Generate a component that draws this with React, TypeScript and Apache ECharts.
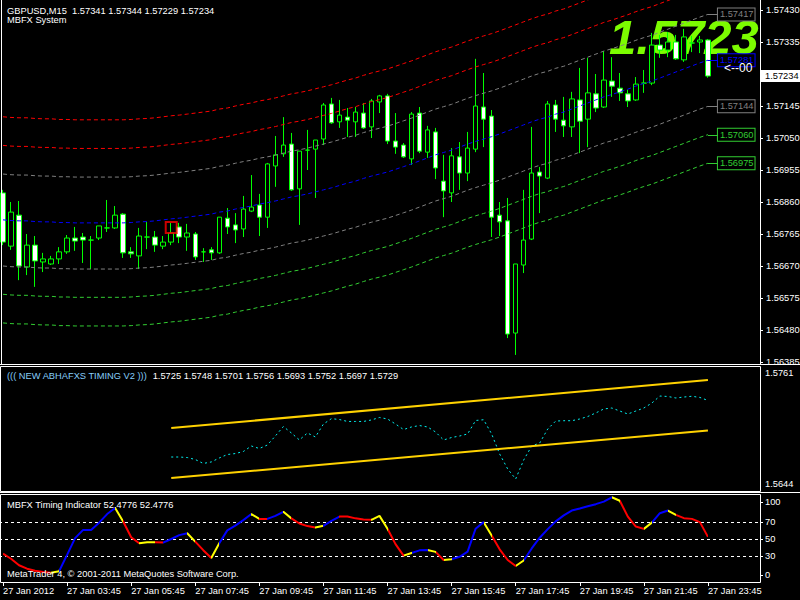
import React, { useEffect, useRef } from "react";
import * as echarts from "echarts";

// ---------- texts ----------
const symbolLabel = "GBPUSD,M15";
const systemLabel = "MBFX System";
const abhaTitle = "((( NEW ABHAFXS TIMING V2 )))";
const abhaValues = [1.5725, 1.5748, 1.5701, 1.5756, 1.5693, 1.5752, 1.5697, 1.5729];
const timingTitle = "MBFX Timing Indicator";
const footerText = "MetaTrader 4, \u00a9 2001-2011 MetaQuotes Software Corp.";
const arrowText = "<--00";

// ---------- main panel: candles (27 Jan 2012, M15, from 01:45) ----------
const opens = [
  1.56887, 1.56729, 1.56821, 1.56667, 1.56732, 1.56682, 1.56676, 1.56691, 1.56712, 1.56753,
  1.56756, 1.56747, 1.56753, 1.56783, 1.56783, 1.56824, 1.56712, 1.567, 1.56756, 1.56756,
  1.56729, 1.56741, 1.56786, 1.56756, 1.56765, 1.56712, 1.56718, 1.56709, 1.56812, 1.56792,
  1.5678, 1.56833, 1.56851, 1.56815, 1.56967, 1.57003, 1.57032, 1.56899, 1.57014, 1.57017,
  1.57047, 1.57151, 1.57098, 1.57112, 1.57098, 1.57124, 1.57083, 1.57157, 1.57175, 1.57041,
  1.57029, 1.56988, 1.57124, 1.57008, 1.57068, 1.56922, 1.56887, 1.56994, 1.56946, 1.57017,
  1.57142, 1.57115, 1.56821, 1.56804, 1.56471, 1.56673, 1.5675, 1.56949, 1.56931, 1.57148,
  1.57103, 1.57083, 1.57163, 1.57106, 1.57181, 1.57142, 1.57219, 1.57198, 1.57181, 1.57163,
  1.57213, 1.57213, 1.57326, 1.57311, 1.57335, 1.57282, 1.57332, 1.57335, 1.57341,
];
const highs = [
  1.56896, 1.5686, 1.56863, 1.56765, 1.56759, 1.56709, 1.567, 1.56726, 1.56762, 1.56786,
  1.56768, 1.56759, 1.56789, 1.56866, 1.56848, 1.56827, 1.56726, 1.56783, 1.56801, 1.56774,
  1.56759, 1.56798, 1.56798, 1.56795, 1.56771, 1.56723, 1.56726, 1.56815, 1.56842, 1.56827,
  1.56878, 1.5694, 1.56884, 1.56976, 1.57056, 1.57112, 1.57065, 1.57011, 1.57074, 1.57044,
  1.57154, 1.57169, 1.57163, 1.57139, 1.57142, 1.57154, 1.57166, 1.57178, 1.57181, 1.57124,
  1.57035, 1.57127, 1.57142, 1.57086, 1.5708, 1.57, 1.5702, 1.57038, 1.57068, 1.57285,
  1.57243, 1.57133, 1.5686, 1.56872, 1.56676, 1.56896, 1.57083, 1.56964, 1.5716, 1.57163,
  1.57172, 1.57187, 1.57258, 1.57288, 1.5724, 1.57308, 1.5729, 1.57243, 1.57193, 1.57231,
  1.57252, 1.57362, 1.57356, 1.57365, 1.57356, 1.57374, 1.57353, 1.57353, 1.57344,
];
const lows = [
  1.56732, 1.56718, 1.56628, 1.56643, 1.56608, 1.56652, 1.56673, 1.56676, 1.56706, 1.56715,
  1.56679, 1.56661, 1.56747, 1.56771, 1.5678, 1.56694, 1.56694, 1.56661, 1.5672, 1.56712,
  1.5672, 1.56732, 1.56738, 1.56715, 1.56688, 1.56682, 1.56688, 1.56706, 1.56765, 1.56738,
  1.56756, 1.5683, 1.56759, 1.56783, 1.56905, 1.56994, 1.56893, 1.56792, 1.56955, 1.56872,
  1.57029, 1.57092, 1.5708, 1.57053, 1.57053, 1.57077, 1.5705, 1.57124, 1.57032, 1.57003,
  1.56991, 1.5697, 1.57005, 1.56991, 1.56928, 1.56815, 1.5686, 1.56896, 1.56922, 1.57008,
  1.57023, 1.56756, 1.56759, 1.56456, 1.56406, 1.56649, 1.56747, 1.56827, 1.56928, 1.57068,
  1.57053, 1.57053, 1.57005, 1.57023, 1.57127, 1.57139, 1.57172, 1.5716, 1.57142, 1.5716,
  1.57184, 1.57207, 1.57288, 1.5729, 1.57282, 1.57276, 1.57305, 1.57302, 1.57229,
];
const closes = [
  1.56741, 1.5683, 1.5667, 1.56732, 1.56685, 1.56691, 1.56691, 1.56712, 1.56753, 1.56744,
  1.56747, 1.56747, 1.56789, 1.56783, 1.56821, 1.56709, 1.56706, 1.56759, 1.56756, 1.56732,
  1.56741, 1.56768, 1.56756, 1.56768, 1.56697, 1.56712, 1.56709, 1.56815, 1.56786, 1.56777,
  1.56839, 1.56845, 1.56815, 1.56973, 1.57, 1.57029, 1.56896, 1.57011, 1.57014, 1.57044,
  1.57148, 1.57095, 1.57118, 1.57103, 1.57127, 1.5708, 1.5716, 1.57175, 1.57041, 1.57023,
  1.56994, 1.57121, 1.57011, 1.57074, 1.56961, 1.56893, 1.56997, 1.56946, 1.5702, 1.57145,
  1.57106, 1.56815, 1.56801, 1.56468, 1.56676, 1.56747, 1.56946, 1.56937, 1.57151, 1.57106,
  1.57086, 1.57166, 1.571, 1.57184, 1.57139, 1.57222, 1.57204, 1.57184, 1.5716, 1.5721,
  1.57213, 1.57326, 1.57311, 1.57335, 1.57285, 1.5735, 1.57332, 1.57341, 1.57234,
];

// MBFX System channel: centre line per bar and band distances
const bandCenter = [
  1.56807, 1.56805, 1.56804, 1.56804, 1.56802, 1.56801, 1.56801, 1.56799, 1.56799, 1.56798,
  1.56798, 1.56798, 1.56798, 1.56798, 1.56798, 1.56798, 1.56799, 1.56801, 1.56802, 1.56804,
  1.56807, 1.5681, 1.56812, 1.56815, 1.56818, 1.56821, 1.56824, 1.5683, 1.56833, 1.56839,
  1.56844, 1.56848, 1.56854, 1.56858, 1.56863, 1.56869, 1.56875, 1.56879, 1.56884, 1.5689,
  1.56896, 1.56902, 1.56909, 1.56916, 1.56922, 1.5693, 1.56937, 1.56943, 1.56949, 1.56957,
  1.56965, 1.56973, 1.56982, 1.56991, 1.57, 1.57007, 1.57014, 1.57023, 1.57032, 1.5704,
  1.57047, 1.57054, 1.57062, 1.57071, 1.5708, 1.57089, 1.57098, 1.57106, 1.57112, 1.57121,
  1.57127, 1.57136, 1.57145, 1.57154, 1.57163, 1.57172, 1.57179, 1.57187, 1.57195, 1.57204,
  1.57212, 1.57219, 1.57228, 1.57237, 1.57246, 1.57255, 1.57264, 1.57273, 1.57281,
];
const bandUpperOffsets = [0.00136, 0.00221, 0.00306];
const bandLowerOffsets = [0.00137, 0.00221, 0.00306];
// 1.57240 is hidden under the bid box in the reference, so it is not listed
const priceTicks = [
  1.5743, 1.57335, 1.57145, 1.5705, 1.56955, 1.5686, 1.56765, 1.5667, 1.56575, 1.5648, 1.56385,
];
const markerBar = 21;
const markerPrice = 1.56784;

// ---------- middle panel ----------
const abhaStart = 21;
const abhaLine = [
  1.56765, 1.56765, 1.5676, 1.56742, 1.56705, 1.56719, 1.56756, 1.56788, 1.56797, 1.56816,
  1.56867, 1.56844, 1.56876, 1.5696, 1.57048, 1.56988, 1.56923, 1.56988, 1.56951, 1.57071,
  1.57121, 1.57113, 1.57095, 1.57095, 1.57095, 1.57109, 1.57132, 1.57118, 1.57071, 1.5702,
  1.57044, 1.57057, 1.57044, 1.56997, 1.56923, 1.56946, 1.5696, 1.56979, 1.57104, 1.57111,
  1.56979, 1.56793, 1.56654, 1.56561, 1.56737, 1.56867, 1.56895, 1.57025, 1.57099, 1.57102,
  1.57102, 1.57118, 1.57141, 1.57174, 1.57211, 1.5722, 1.57192, 1.57164, 1.57192, 1.5722,
  1.57266, 1.57331, 1.57327, 1.57313, 1.57322, 1.57329, 1.57318, 1.5729,
];
const channelUpper = [1.57034, 1.5748];
const channelLower = [1.5657, 1.5701];
const abhaRange = [1.5644, 1.5761];

// ---------- bottom panel ----------
const timingValues = [
  33, 27, 19.5, 15.5, 13, 11.5, 10.8, 12.5, 31.5, 51,
  60.6, 60.6, 69, 79, 86, 70.3, 52, 45, 46.3, 46.3,
  45.8, 50, 54.5, 56.7, 47, 37, 28, 45, 60, 65.5,
  72, 79, 73.4, 73.4, 76.9, 81.6, 74, 68, 65, 63.3,
  65.3, 71, 76.1, 76.1, 74, 72.6, 72.3, 76.9, 62, 44,
  30.7, 33.8, 36.8, 37.3, 35, 25.6, 26.5, 29.3, 35.3, 62,
  69.6, 54, 38, 25.6, 18.6, 25, 39, 51.5, 61.5, 70.5,
  77.5, 83.1, 85.5, 88, 90.5, 93.5, 98.5, 94.5, 76, 64.5,
  61.8, 69, 80, 83.1, 78, 74.2, 73.4, 69.6, 52.4776,
];
// colour of each segment (bar i -> bar i+1): b = up, r = down, y = turn
const timingColorRuns = [
  "rrrrrr", "y", "bbbbbbb", "y", "rr", "yy", "r", "bbb", "y", "rr", "y", "bbbb", "y", "r",
  "bb", "y", "rrr", "y", "bb", "rrrr", "yy", "rr", "y", "bb", "y", "r", "y", "bbbb", "y",
  "rrr", "y", "bbbbbbbbbbb", "y", "rrr", "y", "bb", "y", "rrrr",
];
const timingLevels = [30, 50, 70];
const timingEdgeTicks = [0, 100];

const timeTickLabels = [
  "27 Jan 2012", "27 Jan 03:45", "27 Jan 05:45", "27 Jan 07:45", "27 Jan 09:45", "27 Jan 11:45",
  "27 Jan 13:45", "27 Jan 15:45", "27 Jan 17:45", "27 Jan 19:45", "27 Jan 21:45", "27 Jan 23:45",
];

// ---------- style ----------
const FONT = "Liberation Sans";
const FS = 9.3;
const WHITE = "#ffffff";
const LIME = "#00ff00";
const RED = "#ff0000";
const GRAY = "#808080";
const BLUE = "#0000ff";
const GREEN = "#32cd32";
const GOLD = "#ffd200";
const AQUA = "#00f0f0";
const SEG: Record<string, string> = { b: "#0000ff", r: "#ff0000", y: "#ffff00" };
const NCAT = 95;
const BARS_PER_LABEL = 8;

function labelAxisRange(vLo: number, vHi: number, yLo: number, yHi: number, top: number, height: number) {
  const s = (yLo - yHi) / (vHi - vLo);
  return { min: vLo - (top + height - yLo) / s, max: vHi + (yHi - top) / s };
}

function buildOption() {
  const last = closes.length - 1;
  const categories = Array.from({ length: NCAT }, (_, i) =>
    i % BARS_PER_LABEL === 0 && i / BARS_PER_LABEL < timeTickLabels.length ? timeTickLabels[i / BARS_PER_LABEL] : ""
  );
  const gridBase = { left: -1, width: 761, containLabel: false, outerBoundsMode: "none" };
  const hiddenX = (g: number) => ({
    type: "category", gridIndex: g, data: categories, boundaryGap: true,
    axisLine: { show: false, onZero: false }, axisTick: { show: false }, axisLabel: { show: false }, splitLine: { show: false },
  });
  const axisText = { color: WHITE, fontSize: FS, fontFamily: FONT };

  const abhaLbl = labelAxisRange(abhaRange[0], abhaRange[1], 484, 373, 366, 126);
  const timLbl = labelAxisRange(0, 100, 575, 502, 496, 86);

  const bandDefs = [
    { off: bandUpperOffsets[2], color: RED, label: false },
    { off: bandUpperOffsets[1], color: RED, label: false },
    { off: bandUpperOffsets[0], color: GRAY, label: true },
    { off: 0, color: BLUE, label: true },
    { off: -bandLowerOffsets[0], color: GRAY, label: true },
    { off: -bandLowerOffsets[1], color: GREEN, label: true },
    { off: -bandLowerOffsets[2], color: GREEN, label: true },
  ];
  const bandSeries = bandDefs.map((b) => ({
    type: "line", xAxisIndex: 0, yAxisIndex: 0, z: 3, clip: false, showSymbol: false, silent: true,
    data: bandCenter.map((c, i) => [i, Math.round((c + b.off) * 1e5) / 1e5]),
    lineStyle: { color: b.color, width: 1, type: [4, 3] },
    endLabel: b.label
      ? {
          show: true, distance: 10, formatter: (p: any) => Number(p.value[1]).toFixed(5),
          color: b.color, fontSize: FS, fontFamily: FONT, backgroundColor: "#000",
          borderColor: b.color, borderWidth: 1, padding: [2, 1, 1, 2],
        }
      : { show: false },
  }));

  const colors = timingColorRuns.join("").split("");
  const pieces: any[] = [];
  let s = 0;
  for (let i = 1; i <= colors.length; i++) {
    if (i === colors.length || colors[i] !== colors[s]) {
      pieces.push(i === colors.length ? { gte: s, lte: i, color: SEG[colors[s]] } : { gte: s, lt: i, color: SEG[colors[s]] });
      s = i;
    }
  }

  const series: any[] = [
    {
      type: "candlestick", xAxisIndex: 0, yAxisIndex: 0, z: 2, barWidth: 5, silent: true,
      data: opens.map((o, i) => [o, closes[i], lows[i], highs[i]]),
      itemStyle: { color: "#000", color0: "#fff", borderColor: LIME, borderColor0: LIME, borderColorDoji: LIME, borderWidth: 1 },
    },
    ...bandSeries,
    {
      type: "scatter", xAxisIndex: 0, yAxisIndex: 0, z: 4, silent: true, symbol: "rect", symbolSize: 11,
      data: [[markerBar, markerPrice]],
      itemStyle: { color: "rgba(0,0,0,0)", borderColor: RED, borderWidth: 2 },
    },
    {
      type: "line", xAxisIndex: 1, yAxisIndex: 1, showSymbol: false, silent: true,
      data: abhaLine.map((v, k) => [abhaStart + k, v]),
      lineStyle: { color: AQUA, width: 1, type: [2, 3] },
    },
    {
      type: "line", xAxisIndex: 1, yAxisIndex: 1, showSymbol: false, silent: true,
      data: [[abhaStart, channelUpper[0]], [last, channelUpper[1]]],
      lineStyle: { color: GOLD, width: 2 },
    },
    {
      type: "line", xAxisIndex: 1, yAxisIndex: 1, showSymbol: false, silent: true,
      data: [[abhaStart, channelLower[0]], [last, channelLower[1]]],
      lineStyle: { color: GOLD, width: 2 },
    },
    {
      type: "line", xAxisIndex: 2, yAxisIndex: 3, showSymbol: false, silent: true, z: 3,
      data: timingValues,
      lineStyle: { width: 2 },
      markLine: {
        silent: true, symbol: "none", label: { show: false }, z: 1,
        lineStyle: { color: WHITE, width: 1, type: [3, 3] },
        data: timingLevels.map((v) => ({ yAxis: v })),
      },
    },
  ];
  const timingSeriesIndex = series.length - 1;

  return {
    animation: false,
    backgroundColor: "#000",
    grid: [
      { ...gridBase, top: 10, height: 352 },
      { ...gridBase, top: 366, height: 126 },
      { ...gridBase, top: 496, height: 86 },
    ],
    xAxis: [
      hiddenX(0),
      hiddenX(1),
      {
        ...hiddenX(2),
        axisTick: {
          show: true, alignWithLabel: true, length: 4, lineStyle: { color: WHITE },
          interval: (_i: number, v: string) => v !== "",
        },
        axisLabel: {
          show: true, ...axisText, align: "left", verticalAlign: "top", margin: 4,
          interval: (_i: number, v: string) => v !== "",
        },
      },
    ],
    yAxis: [
      {
        type: "value", gridIndex: 0, position: "right", min: priceTicks[priceTicks.length - 1], max: priceTicks[0],
        axisLine: { show: false }, splitLine: { show: false },
        axisTick: { show: true, length: 3, lineStyle: { color: WHITE }, customValues: priceTicks },
        axisLabel: { show: true, ...axisText, margin: 6, customValues: priceTicks, formatter: (v: number) => v.toFixed(5) },
      },
      {
        type: "value", gridIndex: 1, position: "right", min: abhaRange[0], max: abhaRange[1], show: false,
        axisLine: { show: false }, axisTick: { show: false }, axisLabel: { show: false }, splitLine: { show: false },
      },
      {
        type: "value", gridIndex: 1, position: "right", min: abhaLbl.min, max: abhaLbl.max,
        axisLine: { show: false }, axisTick: { show: false }, splitLine: { show: false },
        axisLabel: { show: true, ...axisText, margin: 5, customValues: abhaRange, formatter: (v: number) => v.toFixed(4) },
      },
      {
        type: "value", gridIndex: 2, position: "right", min: 0, max: 100,
        axisLine: { show: false }, splitLine: { show: false },
        axisTick: { show: true, length: 3, lineStyle: { color: WHITE }, customValues: timingLevels },
        axisLabel: { show: true, ...axisText, margin: 5, customValues: timingLevels, formatter: (v: number) => String(v) },
      },
      {
        type: "value", gridIndex: 2, position: "right", min: timLbl.min, max: timLbl.max,
        axisLine: { show: false }, splitLine: { show: false },
        axisTick: { show: true, length: 3, lineStyle: { color: WHITE }, customValues: timingEdgeTicks },
        axisLabel: { show: true, ...axisText, margin: 5, customValues: timingEdgeTicks, formatter: (v: number) => String(Math.round(v)) },
      },
    ],
    visualMap: [
      { type: "piecewise", show: false, seriesIndex: timingSeriesIndex, dimension: 0, pieces },
    ],
    series,
  };
}

function staticGraphics() {
  const last = closes.length - 1;
  const line = (x1: number, y1: number, x2: number, y2: number, z = 5) => ({
    type: "line", z, silent: true, shape: { x1, y1, x2, y2 }, style: { stroke: WHITE, lineWidth: 1 },
  });
  const txt = (x: number, y: number, text: string, extra: any = {}, z = 6) => ({
    type: "text", x, y, z, silent: true,
    style: { text, fill: WHITE, fontSize: FS, fontFamily: FONT, verticalAlign: "middle", align: "left", ...extra },
  });
  const ohlc = [opens[last], highs[last], lows[last], closes[last]].map((v) => v.toFixed(5)).join(" ");
  const tv = timingValues[last].toFixed(4);
  return [
    // big price (drawn behind the series)
    {
      type: "text", x: 609, y: 37, z: 0, silent: true,
      style: {
        text: closes[last].toFixed(4), fill: "#7cfc00", fontSize: 49, fontWeight: "bold", fontStyle: "italic",
        fontFamily: FONT, verticalAlign: "middle", align: "left",
      },
    },
    // frames
    line(1.5, 0, 1.5, 364),
    line(760.5, 0, 760.5, 364),
    line(0, 364.5, 800, 364.5),
    { type: "rect", z: 5, silent: true, shape: { x: 0.5, y: 366.5, width: 760, height: 125 }, style: { fill: "none", stroke: WHITE, lineWidth: 1 } },
    line(0, 492.5, 800, 492.5),
    { type: "rect", z: 5, silent: true, shape: { x: 0.5, y: 494.5, width: 760, height: 88 }, style: { fill: "none", stroke: WHITE, lineWidth: 1 } },
    // headers
    txt(7, 10.7, `${symbolLabel}  ${ohlc}`),
    txt(7, 20, systemLabel),
    {
      type: "text", x: 7, y: 376, z: 6, silent: true,
      style: {
        text: `{a|${abhaTitle}}  {b|${abhaValues.map((v) => v.toFixed(4)).join(" ")}}`,
        fontSize: FS, fontFamily: FONT, verticalAlign: "middle", align: "left",
        rich: {
          a: { fill: "#87cefa", fontSize: FS, fontFamily: FONT },
          b: { fill: WHITE, fontSize: FS, fontFamily: FONT },
        },
      },
    },
    txt(7, 505, `${timingTitle} ${tv} ${tv}`),
    txt(7, 574, footerText),
    txt(724, 67.5, arrowText, { fontSize: 12 }),
  ];
}

export default function App() {
  const ref = useRef<HTMLDivElement>(null);
  useEffect(() => {
    if (!ref.current) return;
    const chart = echarts.init(ref.current, null, { renderer: "svg" });
    chart.setOption(buildOption() as any);
    const last = closes.length - 1;
    const g: any[] = staticGraphics();
    const labelled = [
      { v: bandCenter[last] + bandUpperOffsets[0], c: GRAY },
      { v: bandCenter[last], c: BLUE },
      { v: bandCenter[last] - bandLowerOffsets[0], c: GRAY },
      { v: bandCenter[last] - bandLowerOffsets[1], c: GREEN },
      { v: bandCenter[last] - bandLowerOffsets[2], c: GREEN },
    ];
    labelled.forEach((b) => {
      const p = chart.convertToPixel({ seriesIndex: 1 }, [last, b.v]) as number[];
      if (!p) return;
      const y = Math.round(p[1]) + 0.5;
      g.push({ type: "line", z: 4, silent: true, shape: { x1: p[0], y1: y, x2: p[0] + 10, y2: y }, style: { stroke: b.c, lineWidth: 1 } });
    });
    const cp = chart.convertToPixel({ seriesIndex: 1 }, [last, closes[last]]) as number[];
    if (cp) {
      g.push({ type: "rect", z: 20, silent: true, shape: { x: 761, y: cp[1] - 6, width: 39, height: 12 }, style: { fill: WHITE } });
      g.push({
        type: "text", x: 765, y: cp[1], z: 21, silent: true,
        style: { text: closes[last].toFixed(5), fill: "#000", fontSize: FS, fontFamily: FONT, verticalAlign: "middle", align: "left" },
      });
    }
    chart.setOption({ graphic: g } as any);
    return () => chart.dispose();
  }, []);
  return (
    <div style={{ position: "fixed", left: 0, top: 0, width: 800, height: 600, background: "#000" }}>
      <div ref={ref} style={{ width: 800, height: 600 }} />
    </div>
  );
}
